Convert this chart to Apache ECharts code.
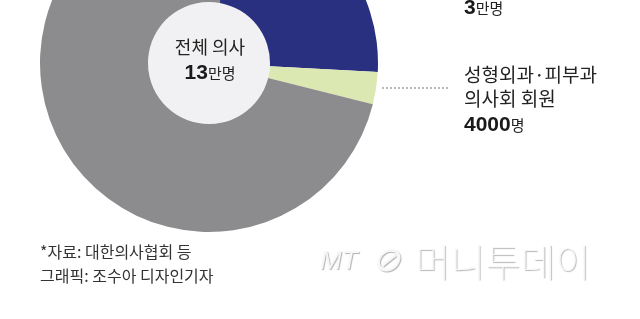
<!DOCTYPE html>
<html><head><meta charset="utf-8">
<script src="https://cdn.jsdelivr.net/npm/echarts@6/dist/echarts.min.js"></script>
<style>html,body{margin:0;padding:0;background:#fff}#c{width:640px;height:319px}</style>
</head><body><div id="c"></div>
<script>
const categories = ['개원의', '성형외과·피부과 의사회 회원', '기타 의사'];
const values = [30000, 4000, 96000];
const colors = ['#29307f', '#dbe8b2', '#8c8c8e'];
const centerTitle = '전체 의사';
const centerValue = ['13', '만명'];
const blueLabel = ['3', '만명'];
const greenLabel = ['성형외과·피부과', '의사회 회원'];
const greenValue = ['4000', '명'];
const sourceLines = ['*자료: 대한의사협회 등', '그래픽: 조수아 디자인기자'];
const watermark = ['MT', '⊘', '머니투데이'];

const KR = '"Noto Sans CJK KR", "Noto Sans", sans-serif';
const NUM = '"Liberation Sans", Arial, sans-serif';
const rich = {b: {font: 'bold 21px ' + NUM, fill: '#1a1a1a'}, s: {font: '15px ' + KR, fill: '#222'}};
const emb = {fill: '#f7f7f7', textShadowColor: 'rgba(0,0,0,0.3)', textShadowOffsetX: 1, textShadowOffsetY: 1, textShadowBlur: 1};
const chart = echarts.init(document.getElementById('c'), null, {renderer: 'canvas'});
chart.setOption({
  backgroundColor: '#ffffff',
  animation: false,
  series: [
    {
      type: 'pie', center: [209, 63], radius: [0, 61], silent: true, z: 1,
      label: {show: false}, labelLine: {show: false},
      data: [{value: 1, itemStyle: {color: '#f1f1f3'}}]
    },
    {
      type: 'pie', center: [209, 63], radius: [61, 169], startAngle: 80, clockwise: true,
      silent: true, label: {show: false}, labelLine: {show: false}, z: 1,
      itemStyle: {borderWidth: 0},
      data: categories.map((c, i) => ({name: c, value: values[i], itemStyle: {color: colors[i]}}))
    }
  ],
  graphic: {
    elements: [
      {type: 'text', z: 100, x: 210, y: 47, style: {text: centerTitle, font: '18px ' + KR, fill: '#222', align: 'center', verticalAlign: 'middle'}},
      {type: 'text', z: 100, x: 210, y: 73, style: {
        text: '{b|' + centerValue[0] + '}{s|' + centerValue[1] + '}', align: 'center', verticalAlign: 'middle', rich: rich}},
      {type: 'text', z: 100, x: 464, y: 8, style: {
        text: '{b|' + blueLabel[0] + '}{s|' + blueLabel[1] + '}', align: 'left', verticalAlign: 'middle', rich: rich}},
      {type: 'line', z: 100, shape: {x1: 382, y1: 88, x2: 448, y2: 88}, style: {stroke: '#777', lineWidth: 1, lineDash: [2, 2]}},
      {type: 'text', z: 100, x: 464, y: 75, style: {text: greenLabel[0], font: '19px ' + KR, fill: '#222', verticalAlign: 'middle'}},
      {type: 'text', z: 100, x: 464, y: 99, style: {text: greenLabel[1], font: '19px ' + KR, fill: '#222', verticalAlign: 'middle'}},
      {type: 'text', z: 100, x: 464, y: 125, style: {
        text: '{b|' + greenValue[0] + '}{s|' + greenValue[1] + '}', align: 'left', verticalAlign: 'middle', rich: rich}},
      {type: 'text', z: 100, x: 40, y: 252, style: {text: sourceLines[0], font: '16px ' + KR, fill: '#333', verticalAlign: 'middle'}},
      {type: 'text', z: 100, x: 40, y: 276, style: {text: sourceLines[1], font: '16px ' + KR, fill: '#333', verticalAlign: 'middle'}},
      {type: 'text', z: 100, x: 320, y: 262, style: {
        text: '{m|' + watermark[0] + '}{o|' + watermark[1] + '}{k|' + watermark[2] + '}', verticalAlign: 'middle',
        rich: {
          m: Object.assign({font: 'italic 26px ' + NUM, padding: [0, 14, 0, 0]}, emb),
          o: Object.assign({font: 'italic 34px ' + NUM, padding: [0, 16, 0, 0]}, emb),
          k: Object.assign({font: '100 38px ' + KR}, emb)
        }}}
    ]
  }
});
</script></body></html>
